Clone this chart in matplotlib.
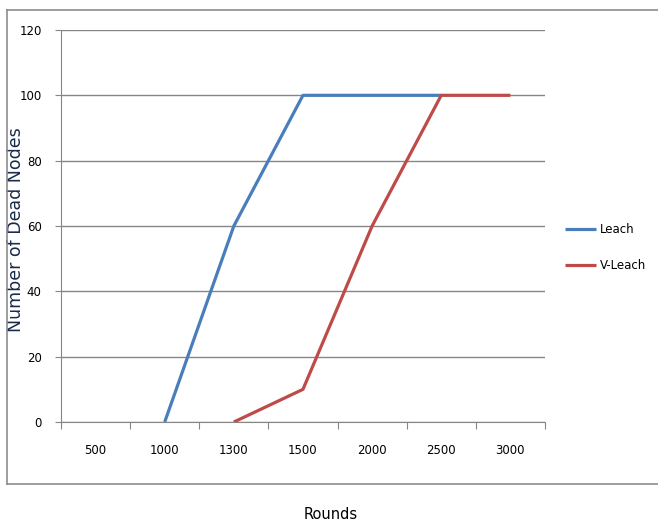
import numpy as np
import matplotlib
matplotlib.use("Agg")
import matplotlib.pyplot as plt
from matplotlib.lines import Line2D

# Data
rounds = ["500", "1000", "1300", "1500", "2000", "2500", "3000"]
leach = [np.nan, 0, 60, 100, 100, 100, np.nan]
v_leach = [np.nan, np.nan, 0, 10, 60, 100, 100]

grid_col = "#868686"

fig = plt.figure(figsize=(6.58, 5.26), dpi=100)
ax = fig.add_axes([0.0927, 0.1977, 0.7355, 0.7453])

x = np.arange(len(rounds))
ax.plot(x, leach, color="#4a7ebb", lw=2.3, label="Leach", solid_capstyle="butt")
ax.plot(x, v_leach, color="#be4b48", lw=2.3, label="V-Leach", solid_capstyle="butt")

ax.set_xlim(-0.5, len(rounds) - 0.5)
ax.set_ylim(0, 120)
ax.set_yticks(range(0, 121, 20))

# category labels sit between the tick marks
ax.set_xticks(np.arange(-0.5, len(rounds), 1.0))
ax.set_xticklabels([])
ax.set_xticks(x, minor=True)
ax.set_xticklabels(rounds, minor=True)
ax.tick_params(axis="x", which="minor", length=0, pad=16, labelsize=8.5)
ax.tick_params(axis="x", which="major", length=5, color=grid_col, direction="out")
ax.tick_params(axis="y", length=4, color=grid_col, direction="out", labelsize=8.5, pad=10)

ax.grid(axis="y", color=grid_col, lw=1)
ax.set_axisbelow(True)
for s in ["top", "right"]:
    ax.spines[s].set_visible(False)
for s in ["left", "bottom"]:
    ax.spines[s].set_color(grid_col)

ax.set_ylabel("Number of Dead Nodes", fontsize=12.5, color="#1a2a4a")
ax.yaxis.set_label_coords(-0.074, 0.49)

# legend
ax.legend(loc="center left", bbox_to_anchor=(1.02, 0.445), frameon=False,
          fontsize=8.5, handlelength=2.6, handletextpad=0.3, labelspacing=2.0)

# outer chart border (right side is cut off)
for xs, ys in [([0.0106, 0.0106], [0.080, 0.981]),
               ([0.0106, 1.0], [0.981, 0.981]),
               ([0.0106, 1.0], [0.080, 0.080])]:
    fig.add_artist(Line2D(xs, ys, color="#8c8c8c", lw=1.2, transform=fig.transFigure))

fig.text(0.502, 0.021, "Rounds", ha="center", va="center", fontsize=10.5)

plt.savefig("out.png", dpi=100)
